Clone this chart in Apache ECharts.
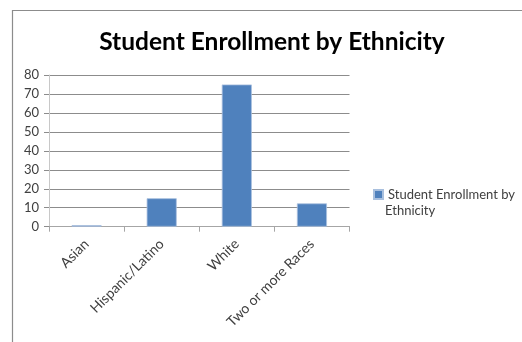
<!DOCTYPE html>
<html><head><meta charset="utf-8">
<script src="https://cdn.jsdelivr.net/npm/echarts@6/dist/echarts.min.js"></script>
<style>html,body{margin:0;padding:0;background:#fff}#c{width:522px;height:342px}</style>
</head><body><div id="c"></div>
<script>
const categories = ["Asian", "Hispanic/Latino", "White", "Two or more Races"];
const enrollment = [0.8, 15, 75, 12.3];
const seriesName = "Student Enrollment by Ethnicity";
const legendLines = ["Student Enrollment by", "Ethnicity"];
const yTicks = [0, 10, 20, 30, 40, 50, 60, 70, 80];

const chart = echarts.init(document.getElementById('c'), null, {renderer: 'canvas'});
const font = 'Lato, "Open Sans", sans-serif';
chart.setOption({
  animation: false,
  backgroundColor: '#fff',
  graphic: [{
    type: 'rect', shape: {x: 12.5, y: 10.5, width: 700, height: 500},
    style: {fill: 'none', stroke: '#8c8c8c', lineWidth: 1.2}, silent: true, z: 100
  }, {
    type: 'text', left: 385, top: 204,
    style: {text: legendLines[1], font: '13px ' + font, fill: '#404040'}, silent: true
  }],
  title: {
    text: seriesName, left: 267, top: 25, textAlign: 'center',
    textStyle: {fontFamily: font, fontWeight: 'bold', fontSize: 24.5, color: '#000'}
  },
  legend: {
    orient: 'vertical', left: 373, top: 188, padding: 0,
    itemWidth: 9, itemHeight: 9, itemGap: 0,
    icon: 'rect',
    formatter: () => legendLines[0],
    textStyle: {fontFamily: font, fontSize: 13, color: '#404040'},
    data: [seriesName]
  },
  grid: {left: 49, right: 172.5, top: 75, bottom: 115.3},
  xAxis: {
    type: 'category', data: categories,
    axisLine: {lineStyle: {color: '#a6a6a6'}},
    axisTick: {show: true, alignWithLabel: false, length: 5, lineStyle: {color: '#a6a6a6'}},
    axisLabel: {rotate: 45, interval: 0, fontFamily: font, fontSize: 14, color: '#404040', margin: 15}
  },
  yAxis: {
    type: 'value', min: yTicks[0], max: yTicks[yTicks.length - 1], interval: 10,
    axisLine: {show: true, lineStyle: {color: '#c8c8c8'}},
    axisTick: {show: true, length: 5, lineStyle: {color: '#8c8c8c'}},
    splitLine: {lineStyle: {color: '#8c8c8c'}},
    axisLabel: {fontFamily: font, fontSize: 13, color: '#404040', margin: 10}
  },
  series: [{
    name: seriesName, type: 'bar', data: enrollment, barWidth: '40%',
    itemStyle: {color: '#4f81bd', borderColor: '#a9c0de', borderWidth: 0.8}
  }]
});
</script></body></html>
